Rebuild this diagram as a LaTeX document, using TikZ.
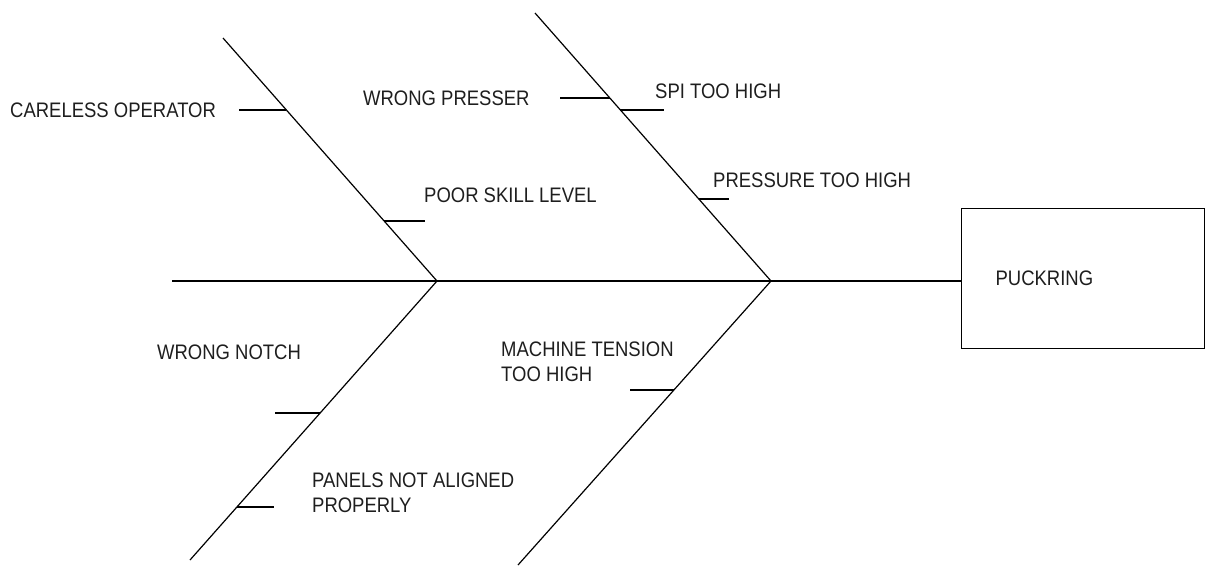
\documentclass[tikz,border=0pt]{standalone}
\usepackage{fontspec}
\setmainfont{Liberation Sans}[FakeStretch=0.88]
\usetikzlibrary{calc}
\definecolor{ink}{HTML}{1E1E1E}
\tikzset{
  bone/.style={draw=black, line width=1.2pt},
  cause/.style={inner sep=0pt, text=ink, font=\fontsize{21}{25}\selectfont, anchor=base west, align=left},
}
\begin{document}
\begin{tikzpicture}[x=1pt, y=-1pt]
\useasboundingbox (0,0) rectangle (1208,566);

% effect box
\node[draw=black, line width=1.2pt, minimum width=243pt, minimum height=140pt,
      inner xsep=34pt, text width=175pt, align=left, anchor=north west,
      text=ink, font=\fontsize{21}{25}\selectfont] (effect) at (961,208) {PUCKRING};

% spine and joints
\coordinate (tail) at (172,281);
\coordinate (j1) at (437,281);
\coordinate (j2) at (771,281);
\coordinate (u1) at (223,38);
\coordinate (l1) at (190,560);
\coordinate (u2) at (535,13);
\coordinate (l2) at (518,565);

\draw[bone] (tail) -- (j1) -- (j2) -- (j2 -| effect.west);
\draw[bone] (u1) -- (j1) -- (l1);
\draw[bone] (u2) -- (j2) -- (l2);

% points where the minor causes meet the ribs
\coordinate (c1) at ($(j1)!0.7037!(u1)$);
\coordinate (c2) at ($(j1)!0.2469!(u1)$);
\coordinate (c3) at ($(j2)!0.6828!(u2)$);
\coordinate (c4) at ($(j2)!0.6380!(u2)$);
\coordinate (c5) at ($(j2)!0.3060!(u2)$);
\coordinate (c6) at ($(j1)!0.4731!(l1)$);
\coordinate (c7) at ($(j1)!0.8100!(l1)$);
\coordinate (c8) at ($(j2)!0.3838!(l2)$);

\draw[bone] (c1) -- ++(-47,0);
\draw[bone] (c2) -- ++(41,0);
\draw[bone] (c3) -- ++(-50,0);
\draw[bone] (c4) -- ++(44,0);
\draw[bone] (c5) -- ++(30,0);
\draw[bone] (c6) -- ++(-45,0);
\draw[bone] (c7) -- ++(37,0);
\draw[bone] (c8) -- ++(-44,0);

% cause labels (two-line labels are placed by their last baseline)
\node[cause] (careless) at (10,117) {CARELESS OPERATOR};
\node[cause] (skill) at (424,202) {POOR SKILL LEVEL};
\node[cause] (presser) at (363,105) {WRONG PRESSER};
\node[cause] (spi) at (655,98) {SPI TOO HIGH};
\node[cause] (pressure) at (713,187) {PRESSURE TOO HIGH};
\node[cause] (notch) at (157,359) {WRONG NOTCH};
\node[cause] (tension) at (501,381) {MACHINE TENSION\\TOO HIGH};
\node[cause] (panels) at (312,512) {PANELS NOT ALIGNED\\PROPERLY};
\end{tikzpicture}
\end{document}
